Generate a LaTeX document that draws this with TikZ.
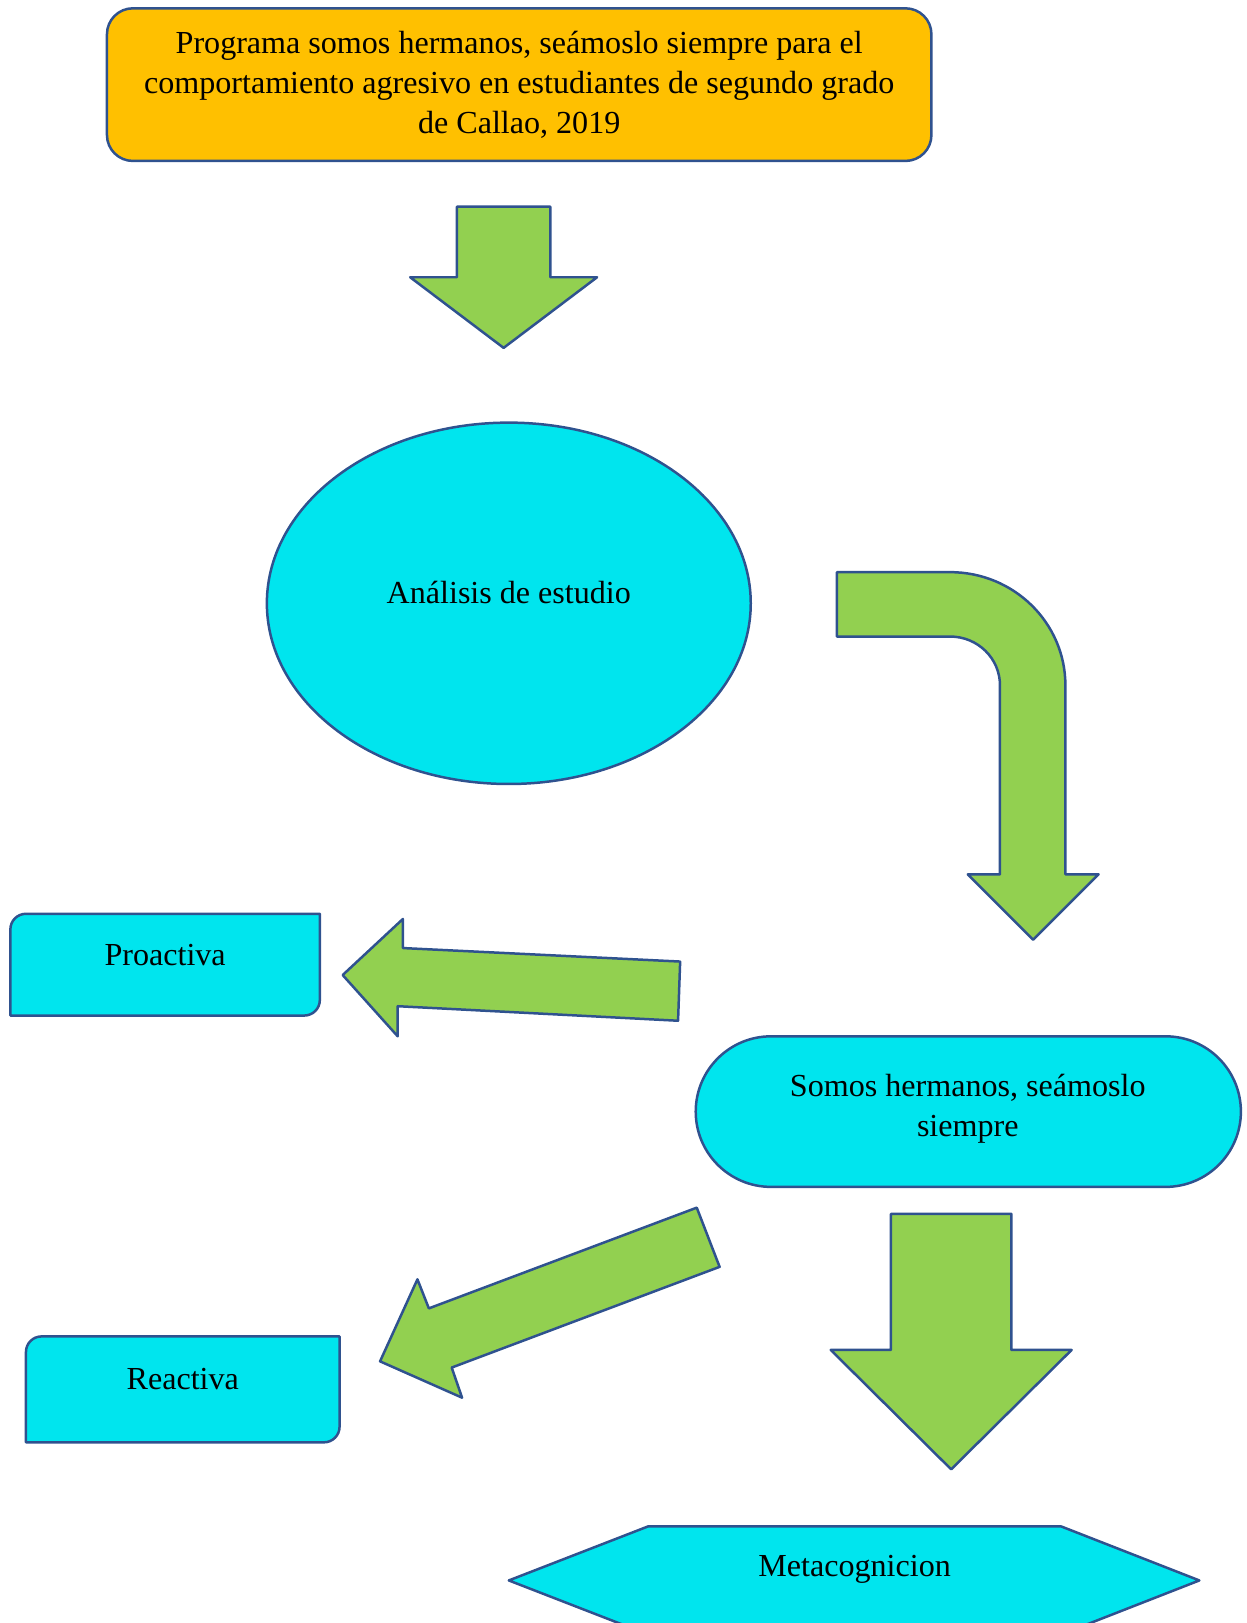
\documentclass[tikz,border=0pt]{standalone}
\usepackage{fontspec}
\setmainfont{Liberation Serif}
\usetikzlibrary{shapes.geometric,shapes.misc}
\definecolor{borderblue}{HTML}{2F528F}
\definecolor{titleorange}{HTML}{FFC000}
\definecolor{shapecyan}{HTML}{00E5EE}
\definecolor{arrowgreen}{HTML}{92D050}
\tikzset{
  outl/.style={draw=borderblue, line width=2.4pt, line join=round},
  cyanshape/.style={outl, fill=shapecyan},
  greenarrow/.style={outl, fill=arrowgreen},
  txt/.style={font=\fontsize{30.9}{38.5}\selectfont, align=center, inner sep=0pt}
}
\begin{document}
\begin{tikzpicture}[x=1pt,y=-1pt]
\useasboundingbox (0,0) rectangle (1200,1563);
% title box
\node[outl, fill=titleorange, rounded corners=25pt, minimum width=794pt, minimum height=147pt, inner sep=0pt] (title) at (500,81.5) {};
\node[txt] (titletext) at (500,82) {Programa somos hermanos, seámoslo siempre para el\\comportamiento agresivo en estudiantes de segundo grado\\de Callao, 2019};
% arrow 1
\draw[greenarrow] (440,199) -- (530,199) -- (530,267) -- (575,267) -- (485,335) -- (395,267) -- (440,267) -- cycle;
% ellipse
\node[cyanshape, ellipse, minimum width=466pt, minimum height=348pt, inner sep=0pt] (analisis) at (490,581) {};
\node[txt] (analisistext) at (490,571) {Análisis de estudio};
% bent arrow
\draw[greenarrow] (806,551) -- (915,551) .. controls (976.3,551) and (1026,599.8) .. (1026,660) -- (1026,842) -- (1058,842) -- (995,905) -- (932,842) -- (963,842) -- (963,660) .. controls (963,634) and (941.5,613) .. (915,613) -- (806,613) -- cycle;
% Proactiva
\draw[cyanshape] (10,895) .. controls (10,886.7) and (16.7,880) .. (25,880) -- (308,880) -- (308,963) .. controls (308,971.3) and (301.3,978) .. (293,978) -- (10,978) -- cycle;
\node[txt] (proactiva) at (159,920) {Proactiva};
% arrow to Proactiva
\draw[greenarrow] (655,926) -- (653,983) -- (383,969) -- (383,998) -- (330,939) -- (388,885) -- (388,913) -- cycle;
% Somos hermanos
\node[cyanshape, rounded rectangle, minimum width=525pt, minimum height=145pt, inner sep=0pt] (somos) at (932.5,1070.5) {};
\node[txt] (somostext) at (932,1068) {Somos hermanos, seámoslo\\siempre};
% diagonal arrow to Reactiva
\draw[greenarrow] (671,1163) -- (693,1220) -- (435,1317) -- (445,1346) -- (366,1311) -- (402,1232) -- (413,1260) -- cycle;
% Reactiva
\draw[cyanshape] (25,1302) .. controls (25,1293.7) and (31.7,1287) .. (40,1287) -- (327,1287) -- (327,1374) .. controls (327,1382.3) and (320.3,1389) .. (312,1389) -- (25,1389) -- cycle;
\node[txt] (reactiva) at (176,1328) {Reactiva};
% big down arrow
\draw[greenarrow] (858,1169) -- (974,1169) -- (974,1300) -- (1032,1300) -- (916,1415) -- (800,1300) -- (858,1300) -- cycle;
% hexagon
\draw[cyanshape] (490,1522) -- (624,1470) -- (1022,1470) -- (1155,1522) -- (1022,1574) -- (624,1574) -- cycle;
\node[txt] (meta) at (823,1511) {Metacognicion};
\end{tikzpicture}
\end{document}
